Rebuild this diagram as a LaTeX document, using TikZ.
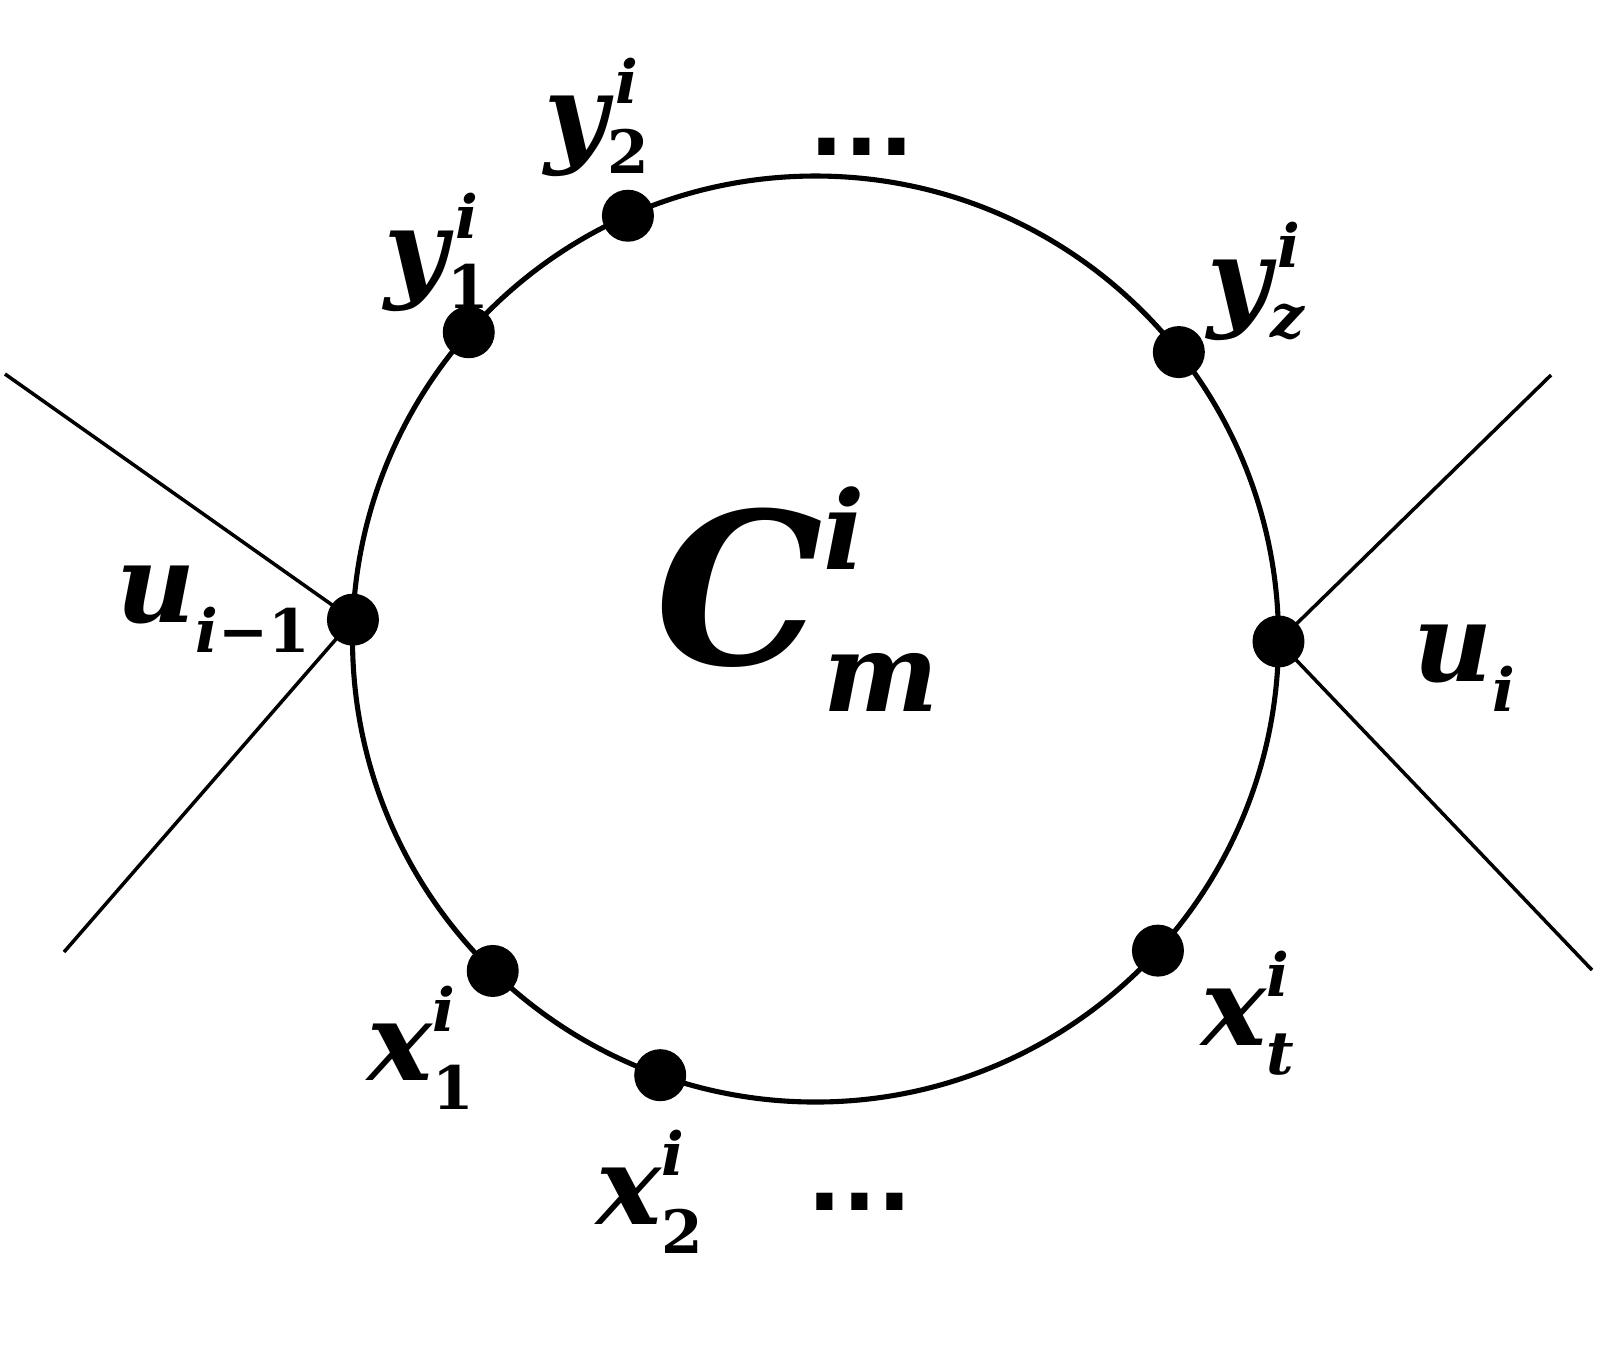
\documentclass[tikz,border=0pt]{standalone}
\usepackage{fontspec}
\setmainfont{DejaVu Serif}
\newfontfamily\dotfont{DejaVu Sans}
\newlength\baseem
% #1 base size, #2 script size, #3 base, #4 sup, #5 sub, #6 raise sup, #7 lower sub
\newcommand\lbl[7]{%
  \fontsize{#1}{#1}\selectfont\bfseries\itshape #3%
  \setlength\baseem{1em}%
  \fontsize{#2}{#2}\selectfont
  \rlap{\raisebox{#6\baseem}{#4}}%
  \raisebox{-#7\baseem}{#5}}
\newcommand\up[1]{\upshape #1}
\begin{document}
\begin{tikzpicture}[x=1cm,y=-1cm,
  vtx/.style={circle,fill=black,inner sep=0pt,minimum size=0.52cm},
  lab/.style={inner sep=0pt,anchor=center},
  ring/.style={line width=1.45pt},
  edge/.style={line width=1pt},
  dotrow/.style={inner sep=0pt,font=\dotfont\bfseries\fontsize{26}{26}\selectfont}]
\useasboundingbox (0,0) rectangle (16,13.64);
\coordinate (c) at (8.155,6.39);
\draw[ring] (c) circle[radius=4.63];
\path (c) ++(-177.6:4.63) node[vtx] (uim) {};
\path (c) ++(0.3:4.63) node[vtx] (ui) {};
\path (c) ++(-138.5:4.63) node[vtx] (y1) {};
\path (c) ++(-113.9:4.63) node[vtx] (y2) {};
\path (c) ++(-38.3:4.63) node[vtx] (yz) {};
\path (c) ++(-225.8:4.63) node[vtx] (x1) {};
\path (c) ++(-250.4:4.63) node[vtx] (x2) {};
\path (c) ++(42.3:4.63) node[vtx] (xt) {};
\coordinate (lu) at (0.05,3.74);
\coordinate (ll) at (0.64,9.52);
\coordinate (ru) at (15.51,3.75);
\coordinate (rl) at (15.92,9.70);
\draw[edge] (lu) -- (uim.center) -- (ll);
\draw[edge] (ru) -- (ui.center) -- (rl);
\node[lab] (luim) at (2.13,6.09) {\lbl{31}{17}{u}{}{i\up{−1}}{0.45}{0.27}};
\node[lab] (lui) at (14.64,6.68) {\lbl{31}{17}{u}{}{i}{0.45}{0.27}};
\node[lab] (ly1) at (4.37,2.52) {\lbl{31}{17}{y}{\kern0.12em i}{\up{1}}{0.45}{0.2}};
\node[lab] (ly2) at (5.97,1.17) {\lbl{31}{17}{y}{\kern0.12em i}{\up{2}}{0.45}{0.2}};
\node[lab] (lyz) at (12.56,2.81) {\lbl{31}{17}{y}{\kern0.12em i}{z}{0.45}{0.2}};
\node[lab] (lx1) at (4.21,10.48) {\lbl{31}{17}{x}{i}{\up{1}}{0.45}{0.27}};
\node[lab] (lx2) at (6.50,11.92) {\lbl{31}{17}{x}{i}{\up{2}}{0.45}{0.27}};
\node[lab] (lxt) at (12.48,10.13) {\lbl{31}{17}{x}{i}{t}{0.45}{0.27}};
\node[lab] (lc) at (7.97,5.99) {\lbl{60}{31}{C}{i}{m}{0.45}{0.22}};
\node[dotrow] (dtop) at (8.62,1.47) {...};
\node[dotrow] (dbot) at (8.60,12.02) {...};
\end{tikzpicture}
\end{document}
